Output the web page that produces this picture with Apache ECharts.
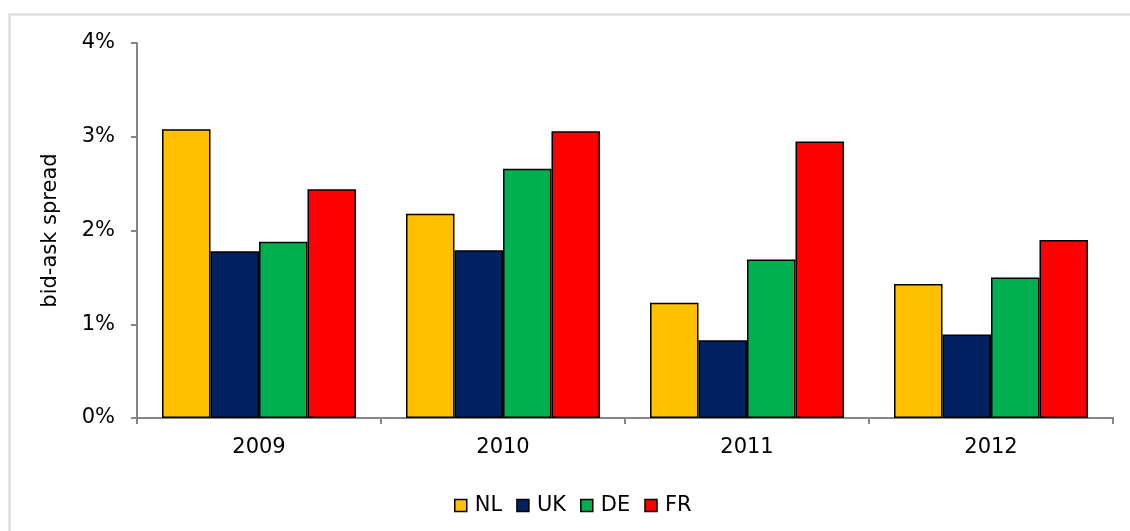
<!DOCTYPE html>
<html>
<head>
<meta charset="utf-8">
<script src="https://cdn.jsdelivr.net/npm/echarts@6/dist/echarts.min.js"></script>
<style>
  html, body { margin: 0; padding: 0; background: #fff; }
  #chart { width: 1130px; height: 531px; }
</style>
</head>
<body>
<div id="chart"></div>
<script>
var years = ['2009', '2010', '2011', '2012'];
var yTicks = ['0%', '1%', '2%', '3%', '4%'];
var nl = [3.08, 2.18, 1.23, 1.43];
var uk = [1.78, 1.79, 0.83, 0.89];
var de = [1.88, 2.66, 1.69, 1.50];
var fr = [2.44, 3.06, 2.95, 1.90];

var font = 'DejaVu Sans, Arial, sans-serif';

function bar(name, color, data) {
    return {
        name: name, type: 'bar', data: data,
        barGap: '0%', barCategoryGap: '20.5%',
        itemStyle: {color: color, borderColor: '#000', borderWidth: 1.5}
    };
}

function legendItem(name) {
    return {name: name, icon: 'rect', itemStyle: {borderColor: '#000', borderWidth: 1.5}};
}

var option = {
    animation: false,
    textStyle: {fontFamily: font},
    graphic: [{
        type: 'rect', silent: true,
        shape: {x: 9.5, y: 14.5, width: 1200, height: 600},
        style: {fill: 'none', stroke: '#d9d9d9', lineWidth: 2}
    }],
    grid: {left: 137, right: 17, top: 43, bottom: 113},
    legend: {
        bottom: 10, left: 449,
        itemWidth: 12, itemHeight: 12, itemGap: 14,
        textStyle: {fontSize: 21, color: '#000', fontFamily: font, padding: [0, 0, 0, 3]},
        data: [legendItem('NL'), legendItem('UK'), legendItem('DE'), legendItem('FR')]
    },
    xAxis: {
        type: 'category', data: years,
        axisLine: {lineStyle: {color: '#868686', width: 2}},
        axisTick: {show: true, length: 6, lineStyle: {color: '#868686', width: 2}},
        axisLabel: {fontSize: 21, color: '#000', margin: 19}
    },
    yAxis: {
        type: 'value', min: 0, max: 4, interval: 1,
        name: 'bid-ask spread', nameLocation: 'middle', nameGap: 76,
        nameTextStyle: {fontSize: 21, color: '#000'},
        axisLine: {show: true, lineStyle: {color: '#868686', width: 2}},
        axisTick: {show: true, length: 6, lineStyle: {color: '#868686', width: 2}},
        splitLine: {show: false},
        axisLabel: {
            fontSize: 21, color: '#000', margin: 22,
            formatter: function(v) { return yTicks[v]; }
        }
    },
    series: [
        bar('NL', '#ffc000', nl),
        bar('UK', '#002060', uk),
        bar('DE', '#00b050', de),
        bar('FR', '#ff0000', fr)
    ]
};

echarts.init(document.getElementById('chart')).setOption(option);
</script>
</body>
</html>
